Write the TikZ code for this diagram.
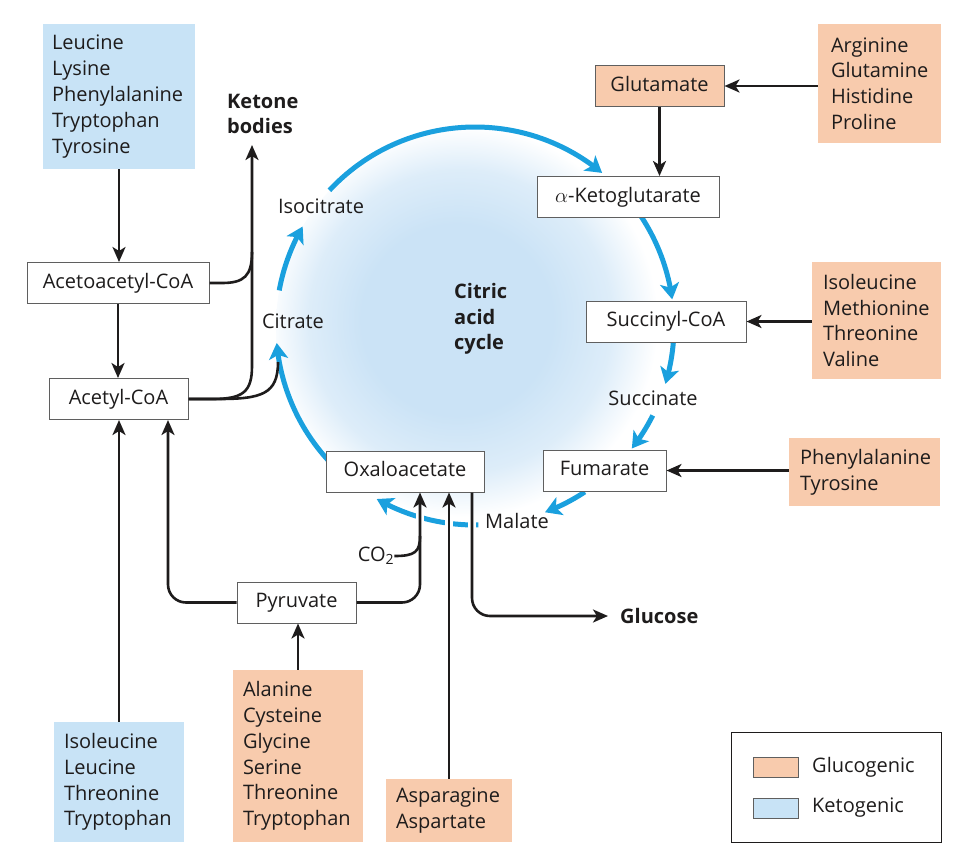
\documentclass[tikz,border=0pt]{standalone}
\usepackage{fontspec}
\setmainfont{Open Sans}
\usetikzlibrary{arrows.meta,bending,calc}
\definecolor{peach}{RGB}{248,203,173}
\definecolor{kblue}{RGB}{200,227,246}
\definecolor{cyc}{RGB}{26,160,222}
\definecolor{ink}{RGB}{30,28,28}
\definecolor{boxline}{RGB}{95,95,95}
\definecolor{shadein}{RGB}{203,227,246}
\pgfdeclareradialshading{cycshade}{\pgfpoint{-3bp}{1bp}}{%
  color(0bp)=(shadein); color(12bp)=(shadein); color(19bp)=(shadein!65!white);
  color(24.5bp)=(white); color(50bp)=(white)}
\begin{document}
\begin{tikzpicture}[x=1pt,y=-1pt,
  font=\fontsize{20}{25.8}\selectfont, text=ink,
  wbox/.style={draw=boxline, line width=1pt, fill=white, inner sep=0pt,
    minimum height=41pt, text height=14.5pt, text depth=4.5pt},
  pbox/.style={wbox, fill=peach},
  amino/.style={align=left, inner ysep=0pt, anchor=center},
  glu/.style={amino, fill=peach},
  ket/.style={amino, fill=kblue},
  lbl/.style={inner sep=1pt},
  bold/.style={font=\fontsize{20}{25.5}\selectfont\bfseries},
  arr/.style={draw=ink, line width=2.6pt, -{Stealth[length=15pt,width=13pt,inset=4pt]}},
  blk/.style={draw=ink, line width=2.6pt},
  carr/.style={draw=cyc, line width=5pt, -{Stealth[length=16pt,width=19pt,inset=4pt]}},
  gap/.style={draw=white, line width=8pt}
]
\useasboundingbox (0,0) rectangle (976,857);
\coordinate (C) at (475,326);
% shaded cycle interior
\shade[shading=cycshade] (C) circle[radius=199];

% cycle arcs
\draw[carr] ($(C)+(137.7:199)$) arc[start angle=137.7, end angle=175.1, radius=199];
\draw[carr] ($(C)+(190.3:199)$) arc[start angle=190.3, end angle=210, radius=199];
\draw[carr] ($(C)+(223:199)$) arc[start angle=223, end angle=309.7, radius=199];
\draw[carr] ($(C)+(326.6:199)$) arc[start angle=326.6, end angle=352.3, radius=199];
\draw[carr] ($(C)+(4.9:199)$) arc[start angle=4.9, end angle=16.9, radius=199];
\draw[carr] ($(C)+(26.7:199)$) arc[start angle=26.7, end angle=38, radius=199];
\draw[carr] ($(C)+(56.5:199)$) arc[start angle=56.5, end angle=69.4, radius=199];
\draw[carr] ($(C)+(89:199)$) arc[start angle=89, end angle=119.6, radius=199];

% gaps where black lines cross the arc
\draw[gap] (420,509) -- (420,526);
\draw[gap] (449,515) -- (449,532);
\draw[gap] (472,517) -- (472,534);

% boxes
\node[ket, text width=134pt, inner xsep=9pt, minimum height=145pt] (topket) at (119,96.5)
  {Leucine\\Lysine\\Phenylalanine\\Tryptophan\\Tyrosine};
\node[wbox, minimum width=182pt] (acac) at (118,283) {Acetoacetyl-CoA};
\node[wbox, minimum width=139pt] (acetyl) at (118.5,399) {Acetyl-CoA};
\node[bold, lbl, align=left, anchor=west, inner sep=0pt] (ketone) at (227,114) {Ketone\\bodies};
\coordinate (kbtip) at (252,145);

\node[lbl] (isocit) at (321,206) {Isocitrate};
\node[lbl] (citrate) at (293,321) {Citrate};
\node[bold, align=left, anchor=west, inner sep=0pt] (cac) at (454,319) {Citric\\acid\\cycle};

\node[pbox, minimum width=129pt] (glutamate) at (659.5,86) {Glutamate};
\node[glu, text width=97pt, inner xsep=13pt, minimum height=119pt] (arg) at (879.5,83.5)
  {Arginine\\Glutamine\\Histidine\\Proline};
\node[wbox, minimum width=182pt] (akg) at (628,197) {$\alpha$-Ketoglutarate};
\node[wbox, minimum width=160pt] (succoa) at (666,321.5) {Succinyl-CoA};
\node[glu, text width=107pt, inner xsep=11pt, minimum height=117pt] (ile) at (876.5,320.5)
  {Isoleucine\\Methionine\\Threonine\\Valine};
\node[lbl] (succinate) at (653,398) {Succinate};
\node[wbox, minimum width=123pt] (fumarate) at (604.5,470.5) {Fumarate};
\node[glu, text width=129pt, inner xsep=11pt, minimum height=68pt] (phe) at (864.5,472)
  {Phenylalanine\\Tyrosine};
\node[lbl] (malate) at (517,521) {Malate};
\node[wbox, minimum width=158pt] (oxalo) at (405,471.5) {Oxaloacetate};
\node[lbl, inner sep=0pt] (co2) at (376,556) {CO\textsubscript{2}};
\node[wbox, minimum width=119pt] (pyruvate) at (296.5,602.5) {Pyruvate};
\node[ket, text width=110pt, inner xsep=10pt, minimum height=120pt] (botket) at (119,782)
  {Isoleucine\\Leucine\\Threonine\\Tryptophan};
\node[glu, text width=110pt, inner xsep=10pt, minimum height=172pt] (ala) at (298,756)
  {Alanine\\Cysteine\\Glycine\\Serine\\Threonine\\Tryptophan};
\node[glu, text width=106pt, inner xsep=10pt, minimum height=63pt] (asn) at (449,810.5)
  {Asparagine\\Aspartate};
\node[bold, anchor=west, inner sep=0pt] (glucose) at (620,616) {Glucose};
\coordinate (glutip) at (608,616);

% legend
\node[draw=ink, line width=1pt, minimum width=210pt, minimum height=110pt, inner sep=0pt] (legend) at (836,787) {};
\node[draw=boxline, line width=0.8pt, fill=peach, minimum width=45pt, minimum height=20pt, inner sep=0pt] (sw1) at (775.5,767) {};
\node[draw=boxline, line width=0.8pt, fill=kblue, minimum width=45pt, minimum height=20pt, inner sep=0pt] (sw2) at (775.5,808) {};
\node[anchor=west, inner sep=0pt] (lg1) at (812,767) {Glucogenic};
\node[anchor=west, inner sep=0pt] (lg2) at (812,808) {Ketogenic};

% black connectors, left part
\draw[arr] (topket.south) -- (topket.south |- acac.north);
\draw[arr] (acac.south) -- (acac.south |- acetyl.north);
\draw[arr] (acetyl.east) -- (212,399) .. controls (243,399) and (252,392) .. (252,366) -- (kbtip);
\draw[blk] (acac.east) -- (222,283) .. controls (244,283) and (252,276) .. (252,252);
\draw[blk] (acetyl.east) -- (218,399) .. controls (262,399) and (278,394) .. (278,362);
\draw[arr] (botket.north) -- (botket.north |- acetyl.south);
\draw[arr, rounded corners=18pt] (pyruvate.west) -| ([xshift=49.5pt]acetyl.south);
\draw[arr] (ala.north) -- (ala.north |- pyruvate.south);

% black connectors to oxaloacetate
\draw[arr, rounded corners=18pt] (pyruvate.east) -| ([xshift=15pt]oxalo.south);
\draw[blk] (co2.east) .. controls (415,556) and (420,552) .. (420,536);
\draw[arr] (asn.north) -- (asn.north |- oxalo.south);
\draw[arr, rounded corners=18pt] ([xshift=67pt]oxalo.south) |- (glutip);

% right side
\draw[arr] (arg.west |- glutamate.east) -- (glutamate.east);
\draw[arr] (glutamate.south) -- (glutamate.south |- akg.north);
\draw[arr] (ile.west |- succoa.east) -- (succoa.east);
\draw[arr] (phe.west |- fumarate.east) -- (fumarate.east);
\end{tikzpicture}
\end{document}
